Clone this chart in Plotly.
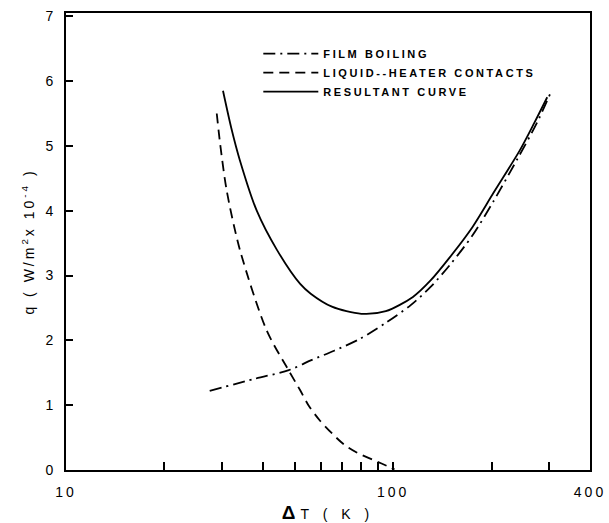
import plotly.graph_objects as go

# ---- data ----
film_x = [27.5, 38, 48, 56, 66, 79, 95, 113, 130, 149, 175, 203, 240, 275, 302]
film_y = [1.22, 1.41, 1.54, 1.69, 1.84, 2.02, 2.27, 2.54, 2.82, 3.16, 3.62, 4.15, 4.80, 5.35, 5.80]

contact_x = [28.9, 29.6, 31.0, 34.0, 41.1, 47.9, 52, 55.1, 59.8, 70.5, 77.4, 92.2, 101]
contact_y = [5.50, 5.03, 4.31, 3.40, 2.15, 1.54, 1.23, 1.00, 0.76, 0.40, 0.27, 0.10, 0.01]

result_x = [30.2, 32, 34, 38.3, 44.1, 52, 56, 65, 80, 95, 115, 130, 149, 175, 203, 244, 270, 296]
result_y = [5.85, 5.28, 4.78, 4.00, 3.40, 2.87, 2.72, 2.52, 2.41, 2.45, 2.67, 2.92, 3.28, 3.75, 4.28, 4.93, 5.35, 5.75]

names = ["FILM BOILING", "LIQUID--HEATER CONTACTS", "RESULTANT CURVE"]

x_tickvals = [10, 20, 30, 40, 50, 60, 70, 80, 90, 100, 200, 300, 400]
x_ticktext = ["10", "", "", "", "", "", "", "", "", "100", "", "", "400"]
y_tickvals = [0, 1, 2, 3, 4, 5, 6, 7]

fig = go.Figure()
fig.add_trace(go.Scatter(x=film_x, y=film_y, mode="lines", name=names[0],
                         line=dict(color="black", width=1.8, dash="12px,5px,2px,5px",
                                   shape="spline", smoothing=0.8)))
fig.add_trace(go.Scatter(x=contact_x, y=contact_y, mode="lines", name=names[1],
                         line=dict(color="black", width=1.8, dash="10px,6px",
                                   shape="spline", smoothing=0.8)))
fig.add_trace(go.Scatter(x=result_x, y=result_y, mode="lines", name=names[2],
                         line=dict(color="black", width=1.8, shape="spline", smoothing=0.8)))

axis_font = dict(family="Liberation Sans, Arial, sans-serif", size=14, color="black")

fig.update_layout(
    width=609, height=523,
    margin=dict(l=66, r=19, t=13, b=53),
    paper_bgcolor="white", plot_bgcolor="white",
    showlegend=True,
    legend=dict(x=0.367, y=0.943, xanchor="left", yanchor="top",
                bgcolor="rgba(0,0,0,0)", itemwidth=55,
                font=dict(family="Liberation Sans, Arial, sans-serif", size=11,
                          color="black", weight="bold"),
                tracegroupgap=0),
    xaxis=dict(type="log", range=[1, 2.60206], automargin=False,
               tickvals=x_tickvals, ticktext=x_ticktext,
               ticks="inside", ticklen=8, tickwidth=1.5, tickcolor="black",
               showline=True, linecolor="black", linewidth=2, mirror=True,
               showgrid=False, zeroline=False,
               tickfont=axis_font, ticklabelstandoff=8,
               title=dict(text="<b><span style='font-size:19px'>Δ</span></b>T ( K )",
                          font=axis_font, standoff=10)),
    yaxis=dict(range=[0, 7.05], automargin=False,
               tickvals=y_tickvals,
               ticks="inside", ticklen=7, tickwidth=1.5, tickcolor="black",
               showline=True, linecolor="black", linewidth=2, mirror=True,
               showgrid=False, zeroline=False,
               tickfont=axis_font, ticklabelstandoff=8,
               title=dict(text="q ( W/m<sup>2</sup>x 10<sup>-4</sup> )",
                          font=axis_font, standoff=8)),
)

post = """
var gd = document.getElementById('{plot_id}');
gd.querySelectorAll('.legend [clip-path]').forEach(function(e){ e.removeAttribute('clip-path'); });
gd.querySelectorAll('.legendtext').forEach(function(e){ e.style.letterSpacing='2.6px'; });
gd.querySelectorAll('.xtick text').forEach(function(e){ e.style.letterSpacing='3px'; });
gd.querySelectorAll('.g-xtitle text').forEach(function(e){ e.style.letterSpacing='5px'; });
gd.querySelectorAll('.g-ytitle text').forEach(function(e){ e.style.letterSpacing='3px'; });
"""

fig.write_html("out.html", post_script=post)
